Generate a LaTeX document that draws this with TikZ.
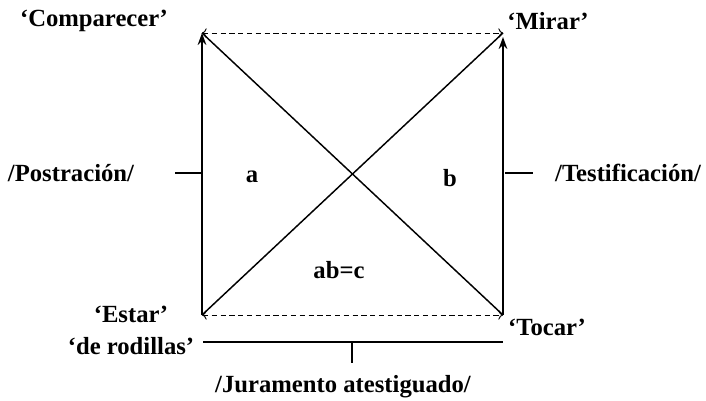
\documentclass[tikz,border=0pt]{standalone}
\usepackage{fontspec}
\setmainfont{Liberation Serif}
\usetikzlibrary{arrows.meta}
\begin{document}
\begin{tikzpicture}[x=0.75pt,y=-0.75pt,
  lbl/.style={font=\fontsize{18.5}{18.5}\selectfont\bfseries, inner sep=0pt, align=center},
  solidline/.style={line width=1.1pt},
  uparrow/.style={solidline, -{Stealth[length=9pt,width=6.5pt]}},
  dashline/.style={line width=0.7pt, dash pattern=on 4pt off 2.6pt, {To[length=3.5pt,width=7pt]}-{To[length=3.5pt,width=7pt]}},
  barline/.style={line width=1.8pt},
  tickline/.style={line width=1.1pt}]
\useasboundingbox (0,0) rectangle (706,400);
% corners
\coordinate (TL) at (202,33);
\coordinate (TR) at (503,33);
\coordinate (BL) at (202,315);
\coordinate (BR) at (503,315);
% sides
\draw[uparrow] (BL) -- (TL);
\draw[uparrow] (BR) -- ([yshift=-3]TR);
\draw[solidline] (TL) -- (BR);
\draw[solidline] (BL) -- (TR);
\draw[dashline] (TL) -- (TR);
\draw[dashline] (BL) -- (BR);
% ticks
\coordinate (PL) at (175,173);
\coordinate (PR) at (202,173);
\draw[tickline] (PL) -- (PR);
\coordinate (TsL) at (505,173);
\coordinate (TsR) at (533,173);
\draw[tickline] (TsL) -- (TsR);
\coordinate (BarL) at (203,342);
\coordinate (BarR) at (503,342);
\coordinate (BarM) at (352,342);
\coordinate (BarT) at (352,363);
\draw[barline] (BarL) -- (BarR);
\draw[tickline] (BarM) -- (BarT);
% labels
\node[lbl] (comp) at (94,21) {‘Comparecer’};
\node[lbl] (mirar) at (548,21) {‘Mirar’};
\node[lbl] (post) at (71,173) {/Postración/};
\node[lbl] (test) at (628,173) {/Testificación/};
\node[lbl] (a) at (252,177) {a};
\node[lbl] (b) at (450,178) {b};
\node[lbl] (abc) at (339,270) {ab=c};
\node[lbl] (tocar) at (547,327) {‘Tocar’};
\node[lbl, font=\fontsize{18.5}{24}\selectfont\bfseries] (estar) at (131,330) {‘Estar’\\‘de rodillas’};
\node[lbl] (jur) at (343,387) {/Juramento atestiguado/};
\end{tikzpicture}
\end{document}
